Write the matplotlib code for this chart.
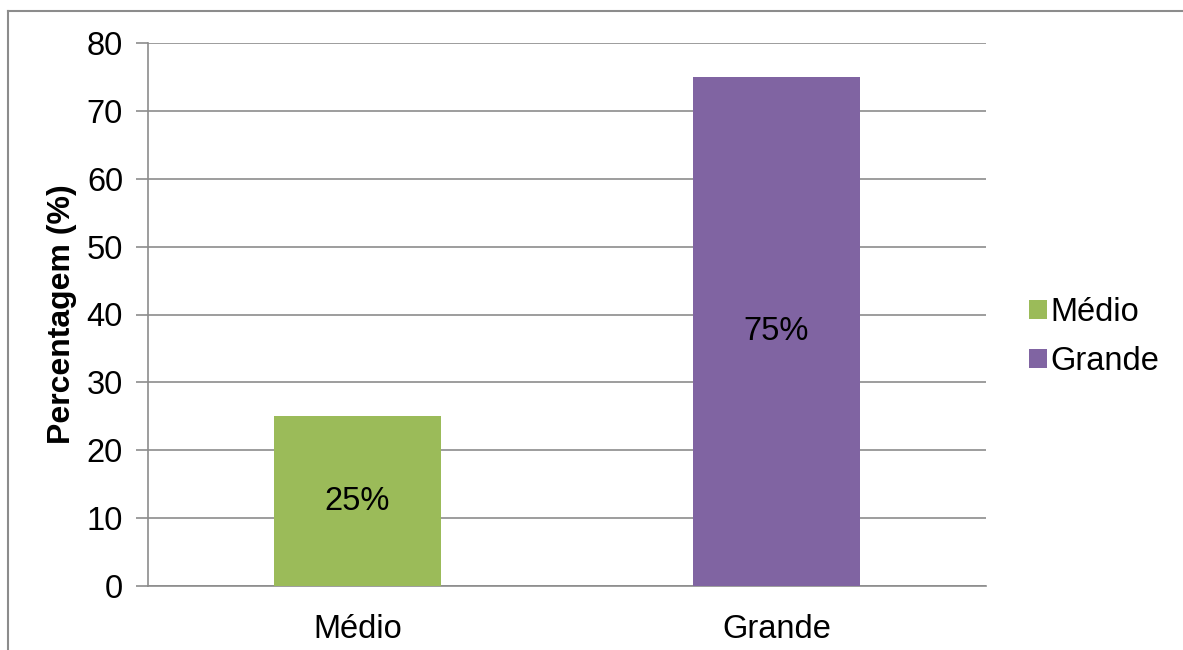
import matplotlib.pyplot as plt
from matplotlib.patches import Patch
from matplotlib.lines import Line2D

plt.rcParams['font.family'] = ['Liberation Sans', 'DejaVu Sans']

categories = ['Médio', 'Grande']
values = [25, 75]
labels = ['25%', '75%']
colors = ['#9BBB59', '#8064A2']
yticks = [0, 10, 20, 30, 40, 50, 60, 70, 80]

W, H = 1183, 650
fs = 23.5
fig = plt.figure(figsize=(W / 100, H / 100), dpi=100)
ax = fig.add_axes([148 / W, 1 - 586 / H, (986 - 148) / W, (586 - 43) / H])

x = range(len(categories))
bars = ax.bar(x, values, width=0.4, color=colors, zorder=3)
for b, lab in zip(bars, labels):
    ax.text(b.get_x() + b.get_width() / 2, b.get_height() / 2, lab,
            ha='center', va='center', fontsize=fs, color='black', zorder=4)

ax.set_xlim(-0.5, 1.5)
ax.set_ylim(0, 80)
ax.set_yticks(yticks)
ax.set_xticks(list(x))
ax.set_xticklabels(categories)
ax.yaxis.grid(True, color='#8c8c8c', linewidth=1.2, zorder=0)
for s in ['top', 'right']:
    ax.spines[s].set_visible(False)
for s in ['left', 'bottom']:
    ax.spines[s].set_color('#8c8c8c')
    ax.spines[s].set_linewidth(1.2)
ax.tick_params(axis='y', length=9, width=1.2, color='#8c8c8c', labelsize=fs, pad=9)
ax.tick_params(axis='x', length=0, labelsize=fs, pad=20)
ax.set_ylabel('Percentagem (%)', fontsize=23, fontweight='bold')
ax.yaxis.set_label_coords(-0.0847, 0.5)

handles = [Patch(facecolor=c, edgecolor='none') for c in colors]
fig.legend(handles, categories, loc='center left', bbox_to_anchor=(1016 / W, 1 - 337 / H),
           frameon=False, fontsize=fs, handlelength=0.55, handleheight=0.55,
           handletextpad=0.1, labelspacing=0.55, borderaxespad=0)

# outer chart border (left and top edges visible)
fig.add_artist(Line2D([7.5 / W, 7.5 / W], [0, 1 - 11 / H], transform=fig.transFigure,
                      color='#8c8c8c', linewidth=1.5))
fig.add_artist(Line2D([7.5 / W, 1], [1 - 11 / H, 1 - 11 / H], transform=fig.transFigure,
                      color='#8c8c8c', linewidth=1.5))

fig.savefig('out.png', dpi=100)
